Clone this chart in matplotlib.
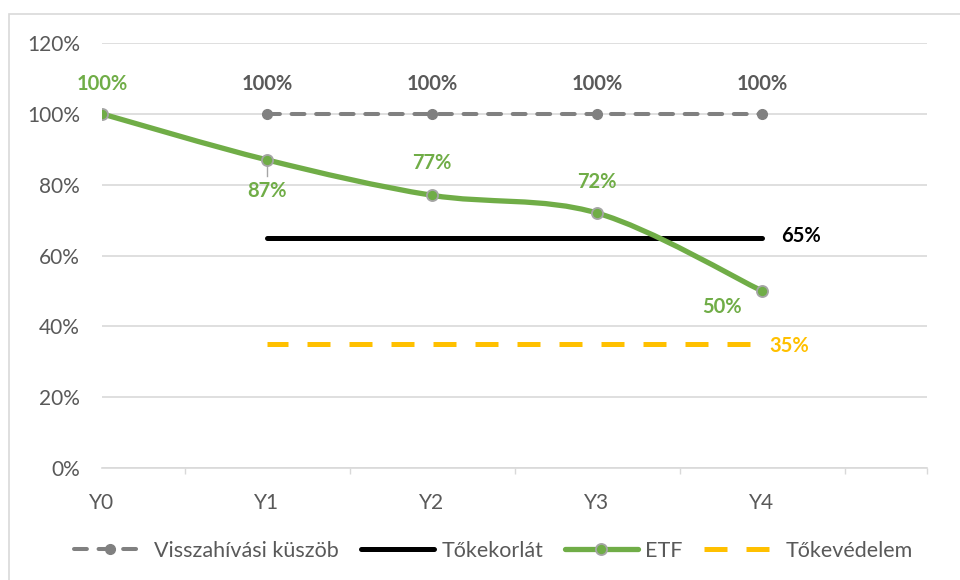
import matplotlib
matplotlib.use('Agg')
import matplotlib.pyplot as plt
from matplotlib.path import Path
from matplotlib.patches import PathPatch, Rectangle
from matplotlib.lines import Line2D
import numpy as np

plt.rcParams['font.family'] = ['Lato', 'DejaVu Sans']

categories = ['Y0', 'Y1', 'Y2', 'Y3', 'Y4']
etf = [100, 87, 77, 72, 50]
threshold = [None, 100, 100, 100, 100]   # Visszahívási küszöb
barrier = [None, 65, 65, 65, 65]         # Tőkekorlát
protection = [None, 35, 35, 35, 35]      # Tőkevédelem
yticks = [0, 20, 40, 60, 80, 100, 120]

GREEN = '#70AD47'
GRAY = '#808080'
TXT = '#595959'
ORANGE = '#FFC000'
GRID = '#D9D9D9'

fig = plt.figure(figsize=(9.6, 5.8), dpi=100)
ax = fig.add_axes([102 / 960, 112 / 580, 825 / 960, 425 / 580])
fig.patches.append(Rectangle((9 / 960, -0.1), 2, 1 - 14 / 580 + 0.1, transform=fig.transFigure,
                             fill=False, edgecolor=GRID, lw=1.2))

x = np.arange(len(categories))

# axis styling
ax.set_xlim(0, 5)
ax.set_ylim(0, 120)
ax.set_yticks(yticks)
ax.set_yticklabels([f'{v}%' for v in yticks])
ax.set_xticks(x)
ax.set_xticklabels(categories)
ax.set_xticks(list(np.arange(0.5, 5, 1)) + [5], minor=True)
ax.tick_params(axis='x', which='major', length=0, pad=18, labelsize=15, labelcolor=TXT)
ax.tick_params(axis='x', which='minor', length=4, width=1, color=GRID, direction='out')
ax.tick_params(axis='y', length=0, pad=16, labelsize=15, labelcolor=TXT)
for s in ['left', 'right', 'top']:
    ax.spines[s].set_visible(False)
ax.spines['bottom'].set_color(GRID)
ax.spines['bottom'].set_linewidth(1.2)
ax.grid(axis='y', color=GRID, lw=1.2)
ax.set_axisbelow(True)

# Tőkevédelem
xp = [i for i, v in enumerate(protection) if v is not None]
yp = [v for v in protection if v is not None]
ax.plot(xp, yp, color=ORANGE, lw=3.6, linestyle=(0.4, (4.6, 3.8)), dash_capstyle='butt', zorder=3)

# Tőkekorlát
xb = [i for i, v in enumerate(barrier) if v is not None]
yb = [v for v in barrier if v is not None]
ax.plot(xb, yb, color='black', lw=3.6, solid_capstyle='round', zorder=3)

# Visszahívási küszöb
xt = [i for i, v in enumerate(threshold) if v is not None]
yt = [v for v in threshold if v is not None]
ax.plot(xt, yt, color=GRAY, lw=2.9, linestyle=(0, (3.2, 2.9)), dash_capstyle='round',
        marker='o', ms=7, mfc=GRAY, mec=GRAY, zorder=4)

# ETF smoothed curve (Catmull-Rom style Bezier, like Excel smoothing)
pts = np.column_stack([x, etf]).astype(float)
ext = np.vstack([pts[0], pts, pts[-1]])
verts = [tuple(pts[0])]
codes = [Path.MOVETO]
for i in range(len(pts) - 1):
    p0, p1, p2, p3 = ext[i], ext[i + 1], ext[i + 2], ext[i + 3]
    c1 = p1 + (p2 - p0) / 6
    c2 = p2 - (p3 - p1) / 6
    verts += [tuple(c1), tuple(c2), tuple(p2)]
    codes += [Path.CURVE4] * 3
ax.add_patch(PathPatch(Path(verts, codes), fill=False, edgecolor=GREEN, lw=3.8,
                       capstyle='round', zorder=5))
ax.plot([1, 1], [etf[1] - 1, etf[1] - 4.5], color='#A5A5A5', lw=1, zorder=4)
ax.plot(x, etf, lw=0, marker='o', ms=8, mfc=GREEN, mec='#A5A5A5', mew=1.3, zorder=6)

# data labels
lab = dict(fontsize=14.5, fontweight='bold', ha='center', va='center', textcoords='offset pixels')
for xi, v in zip(xt, yt):
    ax.annotate(f'{v}%', (xi, v), xytext=(0, 30), color=TXT, **lab)
etf_off = [(0, 30), (0, -31), (0, 32), (0, 31), (-40, -16)]
for xi, v, off in zip(x, etf, etf_off):
    ax.annotate(f'{v}%', (xi, v), xytext=off, color=GREEN, **lab)
ax.annotate(f'{yb[-1]}%', (xb[-1], yb[-1]), xytext=(39, 2), color='black', **lab)
ax.annotate(f'{yp[-1]}%', (xp[-1], yp[-1]), xytext=(27, -2), color=ORANGE, **lab)

# legend
handles = [
    Line2D([], [], color=GRAY, lw=2.9, linestyle=(0, (3.2, 2.9)), dash_capstyle='round',
           marker='o', ms=7, mfc=GRAY, mec=GRAY),
    Line2D([], [], color='black', lw=3.6, solid_capstyle='round'),
    Line2D([], [], color=GREEN, lw=3.8, solid_capstyle='round', marker='o', ms=8,
           mfc=GREEN, mec='#A5A5A5', mew=1.3),
    Line2D([], [], color=ORANGE, lw=3.6, linestyle=(0, (4.6, 3.8))),
]
labels = ['Visszahívási küszöb', 'Tőkekorlát', 'ETF', 'Tőkevédelem']
fig.legend(handles, labels, loc='center', bbox_to_anchor=(493 / 960, 1 - 551 / 580), ncol=4,
           frameon=False, fontsize=15.5, labelcolor=TXT, handlelength=3.4, handletextpad=0.35,
           columnspacing=1.0)

fig.savefig('out.png', dpi=100)
